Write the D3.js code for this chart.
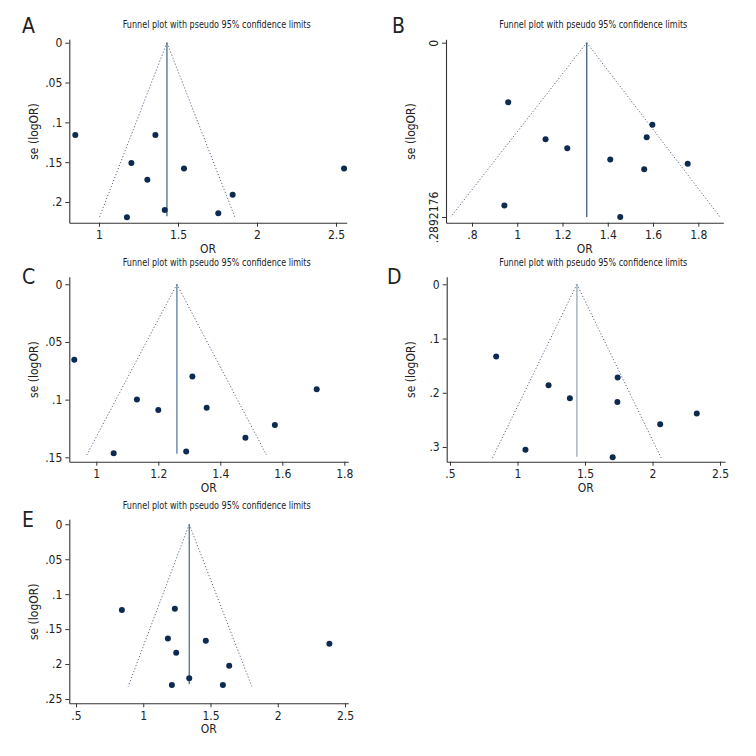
<!DOCTYPE html>
<html>
<head>
<meta charset="utf-8">
<script src="https://cdn.jsdelivr.net/npm/d3@7"></script>
<style>
  html, body { margin: 0; padding: 0; background: #fff; }
  svg { display: block; }
  text { font-family: "Liberation Sans Narrow", "DejaVu Sans Condensed", "Roboto Condensed", sans-serif; fill: #222; }
</style>
</head>
<body>
<svg id="chart" width="756" height="756"></svg>
<script>
// ---------------- DATA ----------------
const panelLabels = ["A", "B", "C", "D", "E"];
const chartTitle = "Funnel plot with pseudo 95% confidence limits";
const xAxisTitle = "OR";
const yAxisTitle = "se (logOR)";

// Study points: odds ratio and standard error of log OR
const orA = [0.850, 1.357, 1.205, 1.538, 2.551, 1.306, 1.846, 1.416, 1.755, 1.177];
const seA = [0.116, 0.116, 0.151, 0.158, 0.158, 0.172, 0.191, 0.210, 0.214, 0.219];

const orB = [0.960, 1.597, 1.572, 1.125, 1.221, 1.411, 1.753, 1.561, 0.943, 1.455];
const seB = [0.099, 0.136, 0.157, 0.160, 0.175, 0.194, 0.201, 0.210, 0.270, 0.2892];

const orC = [0.929, 1.310, 1.711, 1.131, 1.200, 1.356, 1.576, 1.481, 1.290, 1.056];
const seC = [0.0655, 0.080, 0.091, 0.0999, 0.109, 0.107, 0.122, 0.133, 0.145, 0.1465];

const orD = [0.842, 1.742, 1.230, 1.388, 1.740, 2.328, 2.057, 1.059, 1.705];
const seD = [0.133, 0.172, 0.186, 0.210, 0.217, 0.238, 0.258, 0.305, 0.319];

const orE = [0.841, 1.235, 1.183, 1.465, 2.384, 1.245, 1.639, 1.342, 1.213, 1.592];
const seE = [0.1226, 0.1207, 0.1636, 0.1665, 0.1708, 0.1837, 0.2023, 0.2204, 0.230, 0.230];

// Pooled OR (vertical line) and its bottom se
const pooledOR = [1.430, 1.307, 1.260, 1.440, 1.342];
const pooledSEmax = [0.218, 0.2892, 0.147, 0.318, 0.229];
// Pseudo 95% confidence limit lines: apex at se=0, ends at (lower/upper, seMax)
const funnelSEmax = [0.2205, 0.2892, 0.148, 0.320, 0.232];
const funnelLower = [1.000, 0.706, 0.969, 0.815, 0.888];
const funnelUpper = [1.863, 1.896, 1.549, 2.064, 1.807];

// Ticks
const xTicksA = [1, 1.5, 2, 2.5];           const xTickLabelsA = ["1", "1.5", "2", "2.5"];
const xTicksB = [0.8, 1, 1.2, 1.4, 1.6, 1.8]; const xTickLabelsB = [".8", "1", "1.2", "1.4", "1.6", "1.8"];
const xTicksC = [1, 1.2, 1.4, 1.6, 1.8];    const xTickLabelsC = ["1", "1.2", "1.4", "1.6", "1.8"];
const xTicksD = [0.5, 1, 1.5, 2, 2.5];      const xTickLabelsD = [".5", "1", "1.5", "2", "2.5"];
const xTicksE = [0.5, 1, 1.5, 2, 2.5];      const xTickLabelsE = [".5", "1", "1.5", "2", "2.5"];

const yTicksA = [0, 0.05, 0.1, 0.15, 0.2];  const yTickLabelsA = ["0", ".05", ".1", ".15", ".2"];
const yTicksB = [0, 0.2892176];             const yTickLabelsB = ["0", ".2892176"];
const yTicksC = [0, 0.05, 0.1, 0.15];       const yTickLabelsC = ["0", ".05", ".1", ".15"];
const yTicksD = [0, 0.1, 0.2, 0.3];         const yTickLabelsD = ["0", ".1", ".2", ".3"];
const yTicksE = [0, 0.05, 0.1, 0.15, 0.2, 0.25]; const yTickLabelsE = ["0", ".05", ".1", ".15", ".2", ".25"];

// ---------------- LAYOUT (pixels / styles) ----------------
const layout = [
  { xAxis: [69.3, 346.7], xCal: [99, 336],   yAxis: [39.3, 222.7],  yCal: [42.7, 202],  titleX: 216.7, titleY: 28.3, letter: [22, 33.3], lineColor: "#4a6b8d", yRot: false },
  { xAxis: [446, 723.3],  xCal: [472, 698.3], yAxis: [39.3, 222.7], yCal: [42.7, 217],  titleX: 593.3, titleY: 28.3, letter: [392, 33.3], lineColor: "#3f5f80", yRot: true },
  { xAxis: [69.3, 348.3], xCal: [96.3, 344.3], yAxis: [276.7, 461.7], yCal: [284.3, 457.3], titleX: 216.7, titleY: 265.7, letter: [22, 284.3], lineColor: "#5a7ea3", yRot: false },
  { xAxis: [446.7, 725],  xCal: [450, 720],  yAxis: [276.7, 461.7], yCal: [284.3, 447],  titleX: 593.3, titleY: 265.7, letter: [387, 284.3], lineColor: "#9ea8b2", yRot: false },
  { xAxis: [69.3, 348.3], xCal: [76, 345],   yAxis: [519.3, 703.3], yCal: [524.3, 699],  titleX: 216.7, titleY: 508.7, letter: [22, 527], lineColor: "#4f7398", yRot: false }
];

const panels = [
  { or: orA, se: seA, xt: xTicksA, xl: xTickLabelsA, yt: yTicksA, yl: yTickLabelsA },
  { or: orB, se: seB, xt: xTicksB, xl: xTickLabelsB, yt: yTicksB, yl: yTickLabelsB },
  { or: orC, se: seC, xt: xTicksC, xl: xTickLabelsC, yt: yTicksC, yl: yTickLabelsC },
  { or: orD, se: seD, xt: xTicksD, xl: xTickLabelsD, yt: yTicksD, yl: yTickLabelsD },
  { or: orE, se: seE, xt: xTicksE, xl: xTickLabelsE, yt: yTicksE, yl: yTickLabelsE }
];

const svg = d3.select("#chart");
const axisColor = "#333";
const pointColor = "#0d2b50";
const funnelColor = "#566c85";

panels.forEach((p, i) => {
  const L = layout[i];
  const g = svg.append("g");

  // x scale calibrated on first/last tick, then extended to the axis line extent
  const x = d3.scaleLinear().domain([p.xt[0], p.xt[p.xt.length - 1]]).range(L.xCal);
  x.domain([x.invert(L.xAxis[0]), x.invert(L.xAxis[1])]).range(L.xAxis);
  const y = d3.scaleLinear().domain([p.yt[0], p.yt[p.yt.length - 1]]).range(L.yCal);
  y.domain([y.invert(L.yAxis[0]), y.invert(L.yAxis[1])]).range(L.yAxis);

  // Axes
  const xAxisG = g.append("g")
    .attr("transform", `translate(0,${L.yAxis[1]})`)
    .call(d3.axisBottom(x).tickValues(p.xt).tickFormat((d, k) => p.xl[k]).tickSizeOuter(0).tickSizeInner(4).tickPadding(4));
  const yAxisG = g.append("g")
    .attr("transform", `translate(${L.xAxis[0]},0)`)
    .call(d3.axisLeft(y).tickValues(p.yt).tickFormat((d, k) => p.yl[k]).tickSizeOuter(0).tickSizeInner(4).tickPadding(3));

  [xAxisG, yAxisG].forEach(a => {
    a.attr("font-family", null);
    a.select(".domain").attr("stroke", axisColor).attr("stroke-width", 1.1);
    a.selectAll(".tick line").attr("stroke", axisColor).attr("stroke-width", 1);
    a.selectAll(".tick text").attr("font-size", 12).attr("fill", "#222");
  });

  if (L.yRot) {
    yAxisG.selectAll(".tick text")
      .attr("transform", "rotate(-90)")
      .attr("x", 0).attr("y", -8)
      .attr("dy", 0)
      .attr("text-anchor", "middle");
  }

  // Pseudo 95% confidence limit lines (dotted)
  const funnel = [
    [[pooledOR[i], 0], [funnelLower[i], funnelSEmax[i]]],
    [[pooledOR[i], 0], [funnelUpper[i], funnelSEmax[i]]]
  ];
  const line = d3.line().x(d => x(d[0])).y(d => y(d[1]));
  g.selectAll(".funnel").data(funnel).enter().append("path")
    .attr("d", line)
    .attr("fill", "none")
    .attr("stroke", funnelColor)
    .attr("stroke-width", 1)
    .attr("stroke-dasharray", "1.2,2");

  // Pooled estimate vertical line
  g.append("path")
    .attr("d", line([[pooledOR[i], 0], [pooledOR[i], pooledSEmax[i]]]))
    .attr("stroke", L.lineColor)
    .attr("stroke-width", 1.3)
    .attr("fill", "none");

  // Study points
  g.selectAll(".pt").data(p.or.map((v, k) => [v, p.se[k]])).enter().append("circle")
    .attr("cx", d => x(d[0]))
    .attr("cy", d => y(d[1]))
    .attr("r", 3)
    .attr("fill", pointColor);

  // Title
  g.append("text")
    .attr("x", L.titleX).attr("y", L.titleY)
    .attr("text-anchor", "middle")
    .attr("font-size", 11)
    .attr("textLength", 188)
    .attr("lengthAdjust", "spacingAndGlyphs")
    .text(chartTitle);

  // Axis titles
  g.append("text")
    .attr("x", (L.xAxis[0] + L.xAxis[1]) / 2)
    .attr("y", L.yAxis[1] + 30)
    .attr("text-anchor", "middle")
    .attr("font-size", 12)
    .text(xAxisTitle);
  g.append("text")
    .attr("transform", `translate(${L.xAxis[0] - 31.5},${(L.yAxis[0] + L.yAxis[1]) / 2 + 0.5}) rotate(-90)`)
    .attr("text-anchor", "middle")
    .attr("font-size", 12)
    .text(yAxisTitle);

  // Panel letter
  g.append("text")
    .attr("x", L.letter[0]).attr("y", L.letter[1])
    .attr("font-size", 21)
    .text(panelLabels[i]);
});
</script>
</body>
</html>
